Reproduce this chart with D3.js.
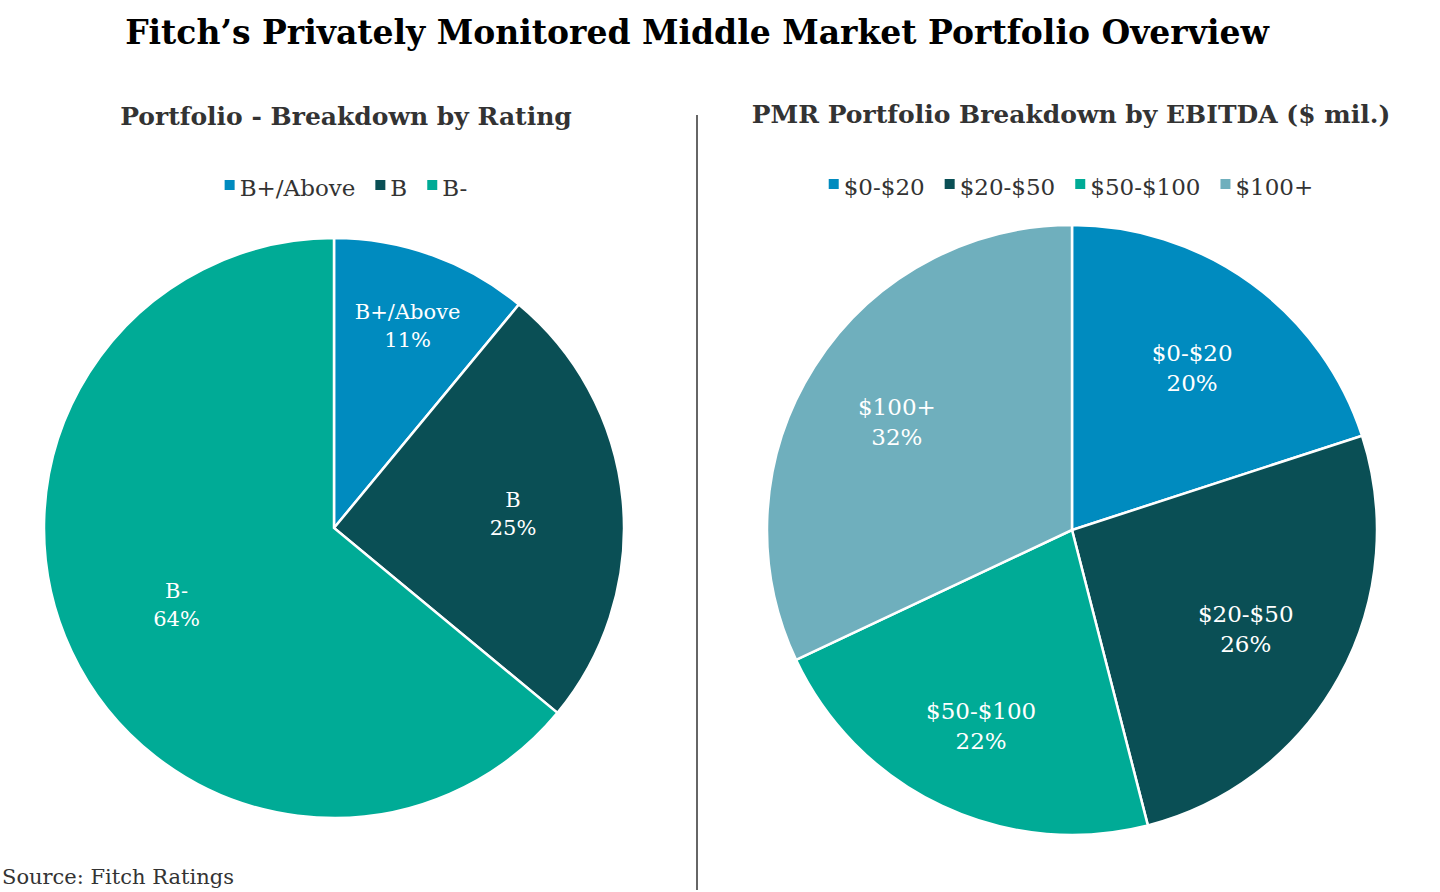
<!DOCTYPE html>
<html><head><meta charset="utf-8">
<script src="https://cdn.jsdelivr.net/npm/d3@7"></script>
<style>body{margin:0;background:#fff}svg{font-family:"DejaVu Serif",Georgia,serif}</style>
</head><body><svg id="c" width="1440" height="892"></svg>
<script>
// data
const ratingCats = ["B+/Above", "B", "B-"]
const ratingVals = [11, 25, 64]
const ebitdaCats = ["$0-$20", "$20-$50", "$50-$100", "$100+"]
const ebitdaVals = [20, 26, 22, 32]
const colors = {"B+/Above":"#008bbf","B":"#0a4f55","B-":"#00ab96","$0-$20":"#008bbf","$20-$50":"#0a4f55","$50-$100":"#00ab96","$100+":"#6fafbd"}

let svg = d3.select("#c")
svg.append("text").attr("x",697).attr("y",44).attr("text-anchor","middle")
  .attr("font-size",33).attr("font-weight","bold").text("Fitch’s Privately Monitored Middle Market Portfolio Overview")
svg.append("line").attr("x1",697).attr("x2",697).attr("y1",115).attr("y2",890).attr("stroke","#333").attr("stroke-width",1.5)
svg.append("text").attr("x",2).attr("y",884).attr("font-size",21).attr("fill","#333").text("Source: Fitch Ratings")

function drawPie(cats, vals, cx, cy, R, title, titleX, titleY, legY, fs, lblFrac){
  svg.append("text").attr("x",titleX).attr("y",titleY).attr("text-anchor","middle")
    .attr("font-size",25).attr("font-weight","bold").attr("fill","#333").text(title)
  // legend
  let leg = svg.append("g")
  let x = 0
  cats.forEach(c=>{
    let g = leg.append("g").attr("transform",`translate(${x},0)`)
    g.append("rect").attr("x",0).attr("y",-8).attr("width",10).attr("height",10).attr("fill",colors[c])
    let t = g.append("text").attr("x",15).attr("y",2).attr("font-size",23).attr("fill","#333").attr("dominant-baseline","middle").text(c)
    x += 15 + t.node().getComputedTextLength() + 20
  })
  leg.attr("transform",`translate(${titleX-(x-20)/2},${legY})`)
  let pie = d3.pie().sort(null).value(d=>d.v)
  let data = pie(cats.map((c,i)=>({c, v: vals[i]})))
  let arc = d3.arc().innerRadius(0).outerRadius(R)
  let g = svg.append("g").attr("transform",`translate(${cx},${cy})`)
  g.selectAll("path").data(data).enter().append("path")
    .attr("d",arc).attr("fill",d=>colors[d.data.c]).attr("stroke","#fff").attr("stroke-width",2.5)
  data.forEach((d,i)=>{
    let lr = R*lblFrac[i]
    let p = d3.arc().innerRadius(lr).outerRadius(lr).centroid(d)
    let t = g.append("text").attr("text-anchor","middle").attr("fill","#fff").attr("font-size",fs)
    t.append("tspan").attr("x",p[0]).attr("y",p[1]-4).text(d.data.c)
    t.append("tspan").attr("x",p[0]).attr("y",p[1]+fs+3).text(d.data.v+"%")
  })
}
drawPie(ratingCats, ratingVals, 334, 528, 290, "Portfolio - Breakdown by Rating", 346, 125, 188, 21, [0.75,0.62,0.6])
drawPie(ebitdaCats, ebitdaVals, 1072, 530, 305, "PMR Portfolio Breakdown by EBITDA ($ mil.)", 1071, 123, 187, 23, [0.67,0.65,0.7,0.68])
</script></body></html>
